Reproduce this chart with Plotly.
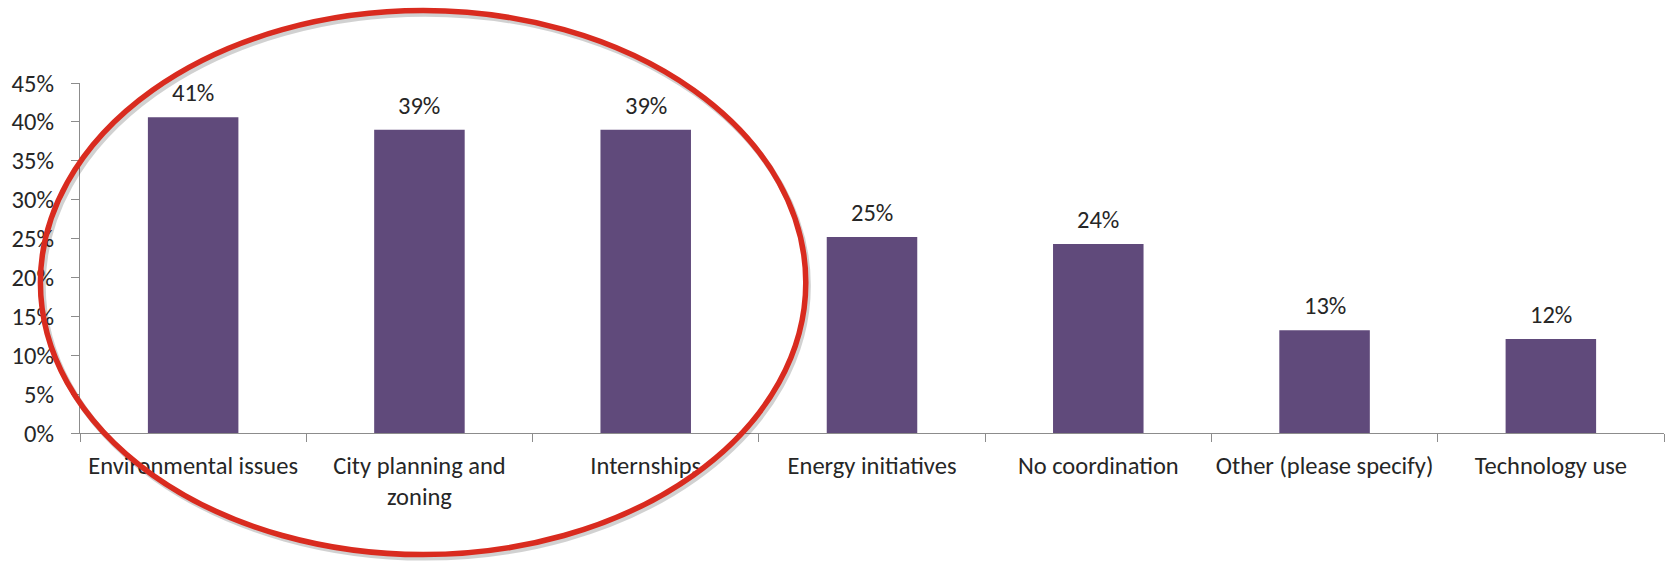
import plotly.graph_objects as go

categories = ["Environmental issues", "City planning and<br>zoning", "Internships",
              "Energy initiatives", "No coordination", "Other (please specify)", "Technology use"]
values = [0.406, 0.39, 0.39, 0.252, 0.243, 0.132, 0.121]
labels = ["41%", "39%", "39%", "25%", "24%", "13%", "12%"]
y_ticks = [0, 0.05, 0.10, 0.15, 0.20, 0.25, 0.30, 0.35, 0.40, 0.45]

FONT = "Carlito, Lato, sans-serif"
TXT = "#262626"
FS = 24.5

fig = go.Figure(go.Bar(x=categories, y=values, marker=dict(color="#604A7B", line=dict(width=0))))

for c, v, t in zip(categories, values, labels):
    fig.add_annotation(x=c, y=v, text=t, showarrow=False, yanchor="middle", yshift=24,
                       font=dict(family=FONT, size=FS, color=TXT))

# red ellipse (paper coordinates)
fig.add_shape(type="circle", xref="paper", yref="paper",
              x0=-0.0235, x1=0.4595, y0=-0.356, y1=1.198,
              line=dict(color="rgba(0,0,0,0.18)", width=6), layer="above")
fig.add_shape(type="circle", xref="paper", yref="paper",
              x0=-0.025, x1=0.4582, y0=-0.3474, y1=1.2069,
              line=dict(color="#D92B1F", width=5.5), layer="above")

fig.update_layout(
    width=1669, height=561,
    margin=dict(l=80, r=5, t=83, b=128),
    paper_bgcolor="white", plot_bgcolor="white",
    bargap=0.6, showlegend=False,
    font=dict(family=FONT, size=FS, color=TXT),
)
fig.update_xaxes(showline=True, linecolor="#8C8C8C", linewidth=1.3,
                 ticks="outside", tickson="boundaries", ticklen=8, tickcolor="#8C8C8C",
                 tickfont=dict(family=FONT, size=FS, color=TXT), ticklabelstandoff=10,
                 tickangle=0, automargin=False,
                 showgrid=False, zeroline=False)
fig.update_yaxes(range=[0, 0.45], tickvals=y_ticks, tickformat=".0%",
                 showline=True, linecolor="#8C8C8C", linewidth=1.3,
                 ticks="outside", ticklen=8, tickcolor="#8C8C8C",
                 tickfont=dict(family=FONT, size=FS, color=TXT), ticklabelstandoff=12,
                 automargin=False,
                 showgrid=False, zeroline=False)

fig.write_html("out.html")
